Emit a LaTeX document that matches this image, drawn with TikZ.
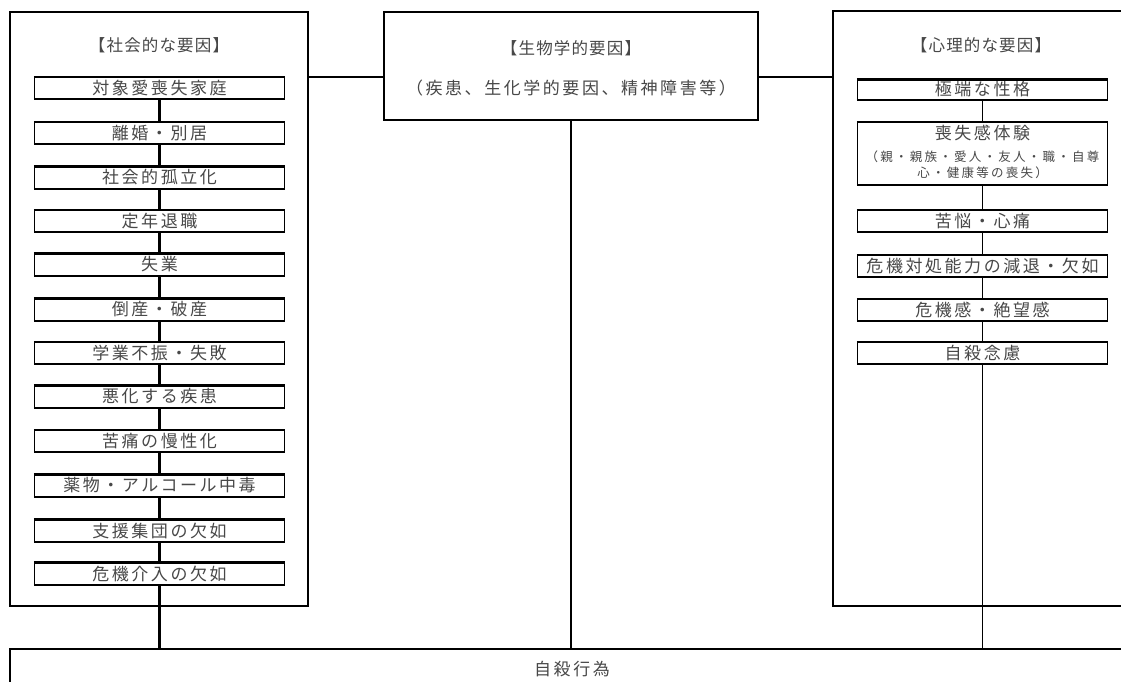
\documentclass[tikz,border=0pt]{standalone}
\usepackage{fontspec}
\newfontfamily\jp{Noto Sans CJK JP}
\definecolor{txt}{HTML}{484848}
\begin{document}
\begin{tikzpicture}[x=1pt,y=-1pt,
  outer/.style={draw, line width=2.6pt, inner sep=0pt},
  itembox/.style={inner sep=0pt, text=txt, minimum width=249pt, minimum height=22pt,
    font=\jp\fontsize{17}{20}\selectfont\addfontfeatures{LetterSpace=15}},
  titletext/.style={inner sep=0pt, text=txt,
    font=\jp\fontsize{16.5}{19}\selectfont\addfontfeatures{LetterSpace=7}},
  subtext/.style={inner sep=0pt, text=txt,
    font=\jp\fontsize{17}{20}\selectfont\addfontfeatures{LetterSpace=15}},
  smalltext/.style={inner sep=0pt, text=txt,
    font=\jp\fontsize{12.5}{14}\selectfont\addfontfeatures{LetterSpace=18}},
  thickconn/.style={line width=2.4pt},
  thinconn/.style={line width=1.3pt},
  edgetb/.style={line width=2.4pt},
  edgeside/.style={line width=1.1pt}]
\useasboundingbox (0,0) rectangle (1121,681);
\clip (0,0) rectangle (1121,681);
\fill[white] (0,0) rectangle (1121,681);

% outer boxes
\node[outer, minimum width=298pt, minimum height=594pt] (lbox) at (159,309) {};
\node[outer, minimum width=374pt, minimum height=108pt] (mid) at (571,66) {};
\node[outer, minimum width=367pt, minimum height=595pt] (rbox) at (1016.5,308.5) {};
\node[outer, minimum width=1190pt, minimum height=71pt] (bot) at (605,684.5) {};

% titles
\node[titletext] (ltitle) at (159,45) {【社会的な要因】};
\node[titletext] (rtitle) at (981,45) {【心理的な要因】};
\node[titletext] (mtitle) at (571,48) {【生物学的要因】};
\node[subtext] (msub) at (571,88) {（疾患、生化学的要因、精神障害等）};
\node[subtext] (bottxt) at (572,669) {自殺行為};

% left items
\node[itembox] (l1) at (159.5,88) {対象愛喪失家庭};
\node[itembox] (l2) at (159.5,133) {離婚・別居};
\node[itembox] (l3) at (159.5,177.5) {社会的孤立化};
\node[itembox] (l4) at (159.5,221) {定年退職};
\node[itembox] (l5) at (159.5,264.5) {失業};
\node[itembox] (l6) at (159.5,309.5) {倒産・破産};
\node[itembox] (l7) at (159.5,353) {学業不振・失敗};
\node[itembox] (l8) at (159.5,396.5) {悪化する疾患};
\node[itembox] (l9) at (159.5,441) {苦痛の慢性化};
\node[itembox] (l10) at (159.5,485.5) {薬物・アルコール中毒};
\node[itembox] (l11) at (159.5,530.5) {支援集団の欠如};
\node[itembox] (l12) at (159.5,573.5) {危機介入の欠如};

% right items
\node[itembox, minimum height=20pt] (r1) at (982.5,89.5) {極端な性格};
\node[itembox, minimum height=63pt] (r2) at (982.5,153.5) {};
\node[subtext] (r2a) at (982.5,133) {喪失感体験};
\node[smalltext] (r2b) at (982.5,157) {（親・親族・愛人・友人・職・自尊};
\node[smalltext] (r2c) at (982.5,173) {心・健康等の喪失）};
\node[itembox] (r3) at (982.5,221) {苦悩・心痛};
\node[itembox] (r4) at (982.5,266) {危機対処能力の減退・欠如};
\node[itembox] (r5) at (982.5,310) {危機感・絶望感};
\node[itembox] (r6) at (982.5,353) {自殺念慮};

% item borders: thick top/bottom, thin sides
\foreach \n in {l1,l2,l3,l4,l5,l6,l7,l8,l9,l10,l11,l12,r1,r2,r3,r4,r5,r6}{
  \draw[edgetb] ([xshift=-1pt]\n.north west) -- ([xshift=1pt]\n.north east);
  \draw[edgetb] ([xshift=-1pt]\n.south west) -- ([xshift=1pt]\n.south east);
  \draw[edgeside] (\n.north west) -- (\n.south west);
  \draw[edgeside] (\n.north east) -- (\n.south east);
}

% left chain
\foreach \a/\b in {l1/l2,l2/l3,l3/l4,l4/l5,l5/l6,l6/l7,l7/l8,l8/l9,l9/l10,l10/l11,l11/l12}{
  \draw[thickconn] (\a.south) -- (\b.north);
}
\draw[thickconn] (l12.south) -- (l12.south |- bot.north);

% right chain
\foreach \a/\b in {r1/r2,r2/r3,r3/r4,r4/r5,r5/r6}{
  \draw[thinconn] (\a.south) -- (\b.north);
}
\draw[thinconn] (r6.south) -- (r6.south |- bot.north);

% middle connections
\draw[thickconn] (lbox.north east |- l1.north) -- (mid.west |- l1.north);
\draw[thickconn] (mid.east |- l1.north) -- (rbox.west |- l1.north);
\draw[thickconn] (mid.south) -- (mid.south |- bot.north);
\end{tikzpicture}
\end{document}
